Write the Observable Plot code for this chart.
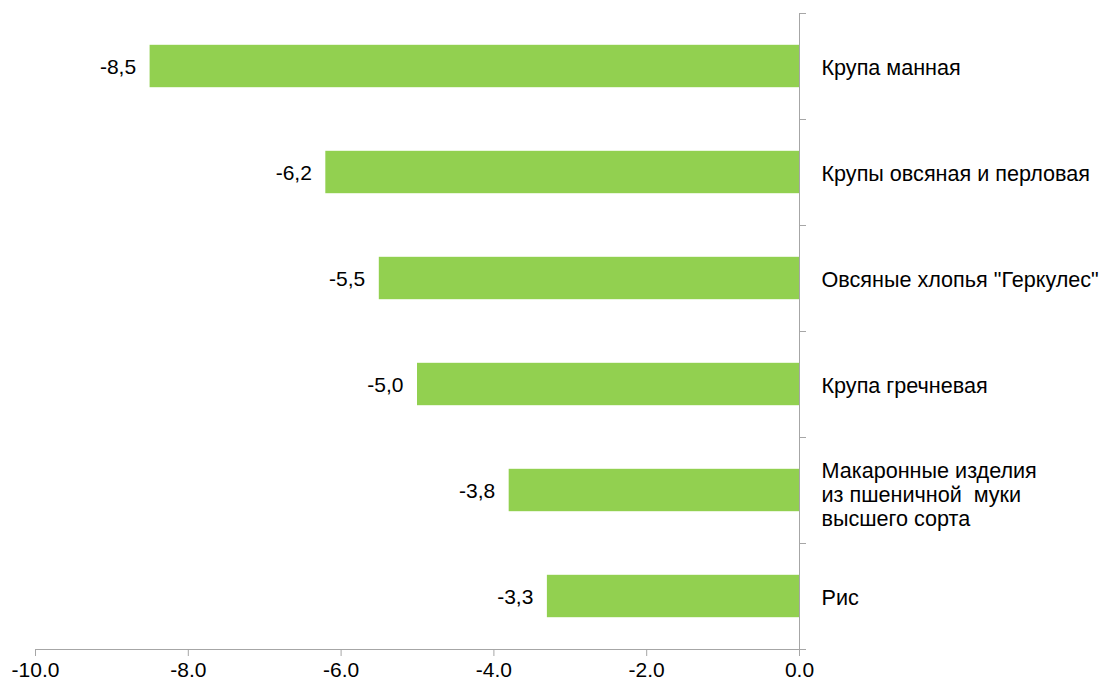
<!DOCTYPE html>
<html>
<head>
<meta charset="utf-8">
<script src="https://cdn.jsdelivr.net/npm/d3@7"></script>
<script src="https://cdn.jsdelivr.net/npm/@observablehq/plot@0.6"></script>
<style>
  html, body { margin: 0; padding: 0; background: #fff; }
  #chart svg { display: block; font-family: "Liberation Sans", Arial, sans-serif; }
</style>
</head>
<body>
<div id="chart"></div>
<script>
const categories = [
  "Крупа манная",
  "Крупы овсяная и перловая",
  "Овсяные хлопья \"Геркулес\"",
  "Крупа гречневая",
  "Макаронные изделия\nиз пшеничной  муки\nвысшего сорта",
  "Рис"
];
const values = [-8.5, -6.2, -5.5, -5.0, -3.8, -3.3];
const xTicks = [-10, -8, -6, -4, -2, 0];

const data = categories.map((c, i) => ({category: c, value: values[i], index: i}));
const boundaries = d3.range(0, categories.length);

const gray = "#a6a6a6";
const green = "#92d050";
const fs = 21;
const valueFmt = v => d3.format(".1f")(v).replace("−", "-").replace(".", ",");
const tickFmt = v => d3.format(".1f")(v).replace("−", "-");

const chart = Plot.plot({
  width: 1103,
  height: 684,
  marginLeft: 35,
  marginRight: 304,
  marginTop: 13,
  marginBottom: 35,
  style: {fontFamily: "Liberation Sans, Arial, sans-serif", fontSize: fs + "px", color: "#000"},
  x: {domain: [-10, 0], ticks: xTicks, tickFormat: tickFmt},
  y: {domain: [categories.length, 0], axis: null},
  marks: [
    Plot.rect(data, {
      x1: 0, x2: "value",
      y1: d => d.index, y2: d => d.index + 1,
      insetTop: 31.8, insetBottom: 31.8,
      fill: green
    }),
    Plot.ruleY(boundaries, {x1: 0, x2: 0, insetRight: -7, stroke: gray, strokeWidth: 1}),
    Plot.ruleY([categories.length], {x1: xTicks[0], x2: 0, insetRight: -7, stroke: gray, strokeWidth: 1}),
    Plot.ruleX([0], {y1: 0, y2: categories.length, insetBottom: -6, stroke: gray, strokeWidth: 1}),
    Plot.axisX({
      ticks: xTicks, tickFormat: tickFmt, tickSize: 7, tickPadding: 6,
      stroke: gray, fontSize: fs, fill: "#000", label: null
    }),
    Plot.text(data.filter(d => !d.category.includes("\n")), {
      x: 0, y: d => d.index + 0.5, text: "category",
      textAnchor: "start", dx: 22, dy: 2, lineAnchor: "middle",
      fontSize: 21.6, fill: "#000"
    }),
    Plot.text(data.filter(d => d.category.includes("\n")), {
      x: 0, y: d => d.index + 0.5, text: "category",
      textAnchor: "start", dx: 22, dy: 4, lineAnchor: "middle", lineHeight: 1.12,
      fontSize: 21.6, fill: "#000"
    }),
    Plot.text(data, {
      x: "value", y: d => d.index + 0.5, text: d => valueFmt(d.value),
      textAnchor: "end", dx: -14, dy: 1, lineAnchor: "middle",
      fontSize: fs, fill: "#000"
    })
  ]
});
document.getElementById("chart").appendChild(chart);
</script>
</body>
</html>
